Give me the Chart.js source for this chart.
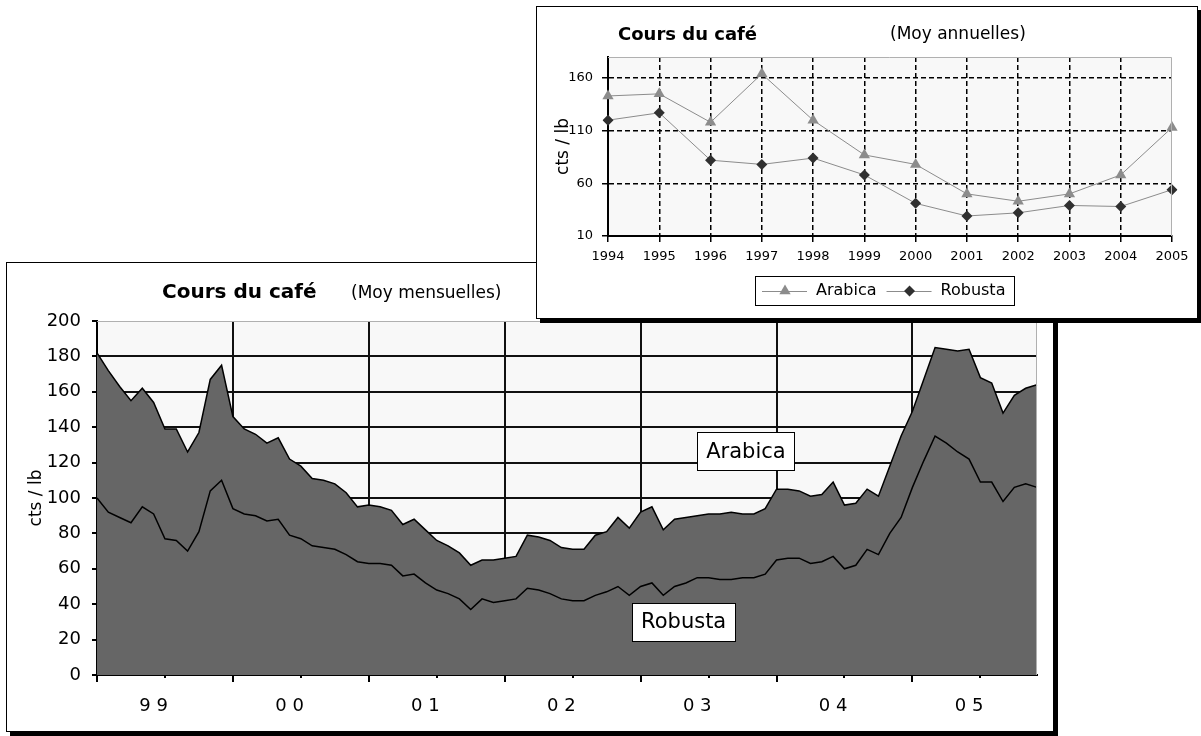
<!DOCTYPE html>
<html>
<head>
<meta charset="utf-8">
<script src="https://cdn.jsdelivr.net/npm/chart.js@4.4.0/dist/chart.umd.min.js"></script>
<style>
  body { margin: 0; background: #fff; width: 1201px; height: 736px; overflow: hidden; position: relative; }
  .frame { position: absolute; background: #fff; border: 1px solid #000; box-shadow: 4px 4px 0 #000; box-sizing: border-box; }
  #big { left: 6px; top: 262px; width: 1048px; height: 470px; z-index: 1; }
  #small { left: 536px; top: 6px; width: 662px; height: 313px; z-index: 2; }
  canvas { position: absolute; left: 0; top: 0; }
</style>
</head>
<body>
<div class="frame" id="big"><canvas id="monthly" width="1046" height="468"></canvas></div>
<div class="frame" id="small"><canvas id="yearly" width="660" height="311"></canvas></div>
<script>
const FONT = 'DejaVu Sans';

// monthly averages, jan 1999 -> dec 2005 (cts / lb)
const years = ['99', '00', '01', '02', '03', '04', '05'];
const yearTicks = ['9 9', '0 0', '0 1', '0 2', '0 3', '0 4', '0 5'];
const months = [];
years.forEach(y => { for (let m = 1; m <= 12; m++) months.push(y + '-' + m); });

const arabicaMonthly = [
  182, 172, 163, 155, 162, 154, 139, 139, 126, 137, 167, 175,
  146, 139, 136, 131, 134, 122, 118, 111, 110, 108, 103, 95,
  96, 95, 93, 85, 88, 82, 76, 73, 69, 62, 65, 65,
  66, 67, 79, 78, 76, 72, 71, 71, 79, 81, 89, 83,
  92, 95, 82, 88, 89, 90, 91, 91, 92, 91, 91, 94,
  105, 105, 104, 101, 102, 109, 96, 97, 105, 101, 118, 135,
  149, 167, 185, 184, 183, 184, 168, 165, 148, 158, 162, 164
];
const robustaMonthly = [
  100, 92, 89, 86, 95, 91, 77, 76, 70, 81, 104, 110,
  94, 91, 90, 87, 88, 79, 77, 73, 72, 71, 68, 64,
  63, 63, 62, 56, 57, 52, 48, 46, 43, 37, 43, 41,
  42, 43, 49, 48, 46, 43, 42, 42, 45, 47, 50, 45,
  50, 52, 45, 50, 52, 55, 55, 54, 54, 55, 55, 57,
  65, 66, 66, 63, 64, 67, 60, 62, 71, 68, 80, 89,
  106, 121, 135, 131, 126, 122, 109, 109, 98, 106, 108, 106
];

// yearly averages
const yearsAnnual = ['1994', '1995', '1996', '1997', '1998', '1999', '2000', '2001', '2002', '2003', '2004', '2005'];
const arabicaAnnual = [143, 145, 118, 164, 120, 87, 78, 50, 43, 50, 68, 113];
const robustaAnnual = [120, 127, 82, 78, 84, 68, 41, 29, 32, 39, 38, 54];
const annualTicks = [10, 60, 110, 160];

const clear = 'rgba(0,0,0,0)';

// light plot background + grey top/right edge, like excel
const plotBox = {
  id: 'plotBox',
  beforeDraw(chart) {
    const {ctx, chartArea: a} = chart;
    ctx.save();
    ctx.fillStyle = '#f8f8f8';
    ctx.fillRect(a.left, a.top, a.right - a.left, a.bottom - a.top);
    ctx.restore();
  },
  afterDatasetsDraw(chart) {
    const {ctx, chartArea: a} = chart;
    ctx.save();
    ctx.strokeStyle = '#b0b0b0';
    ctx.lineWidth = 1;
    ctx.beginPath();
    ctx.moveTo(a.left, Math.round(a.top) + 0.5);
    ctx.lineTo(Math.round(a.right) - 0.5, Math.round(a.top) + 0.5);
    ctx.lineTo(Math.round(a.right) - 0.5, a.bottom);
    ctx.stroke();
    ctx.restore();
  }
};

const titles = {
  id: 'titles',
  afterDraw(chart, args, opts) {
    const ctx = chart.ctx;
    ctx.save();
    ctx.fillStyle = '#000';
    ctx.textBaseline = 'middle';
    opts.items.forEach(t => {
      ctx.font = t.font;
      ctx.fillText(t.text, t.x, t.y);
    });
    ctx.restore();
  }
};

// boxed series names inside the area chart
const seriesTags = {
  id: 'seriesTags',
  afterDatasetsDraw(chart, args, opts) {
    const {ctx, scales: {x, y}} = chart;
    ctx.save();
    ctx.font = opts.font;
    ctx.textAlign = 'center';
    ctx.textBaseline = 'middle';
    opts.tags.forEach(t => {
      const cx = x.getPixelForValue(t.at[0]);
      const cy = y.getPixelForValue(t.at[1]);
      const w = Math.round(ctx.measureText(t.text).width + 18);
      const h = 38;
      const l = Math.round(cx - w / 2), tp = Math.round(cy - h / 2);
      ctx.fillStyle = '#fff';
      ctx.fillRect(l, tp, w, h);
      ctx.strokeStyle = '#000';
      ctx.lineWidth = 1;
      ctx.strokeRect(l + 0.5, tp + 0.5, w, h);
      ctx.fillStyle = '#000';
      ctx.fillText(t.text, cx, cy + 1);
    });
    ctx.restore();
  }
};

// major (year) and minor (half year) ticks under the x axis
const yearMarks = {
  id: 'yearMarks',
  afterDraw(chart) {
    const {ctx, scales: {x}, chartArea: a} = chart;
    ctx.save();
    ctx.strokeStyle = '#000';
    ctx.lineWidth = 2;
    months.forEach((m, i) => {
      if (i % 6) return;
      const px = Math.round(x.getPixelForValue(i));
      ctx.beginPath();
      ctx.moveTo(px, a.bottom);
      ctx.lineTo(px, a.bottom + (i % 12 ? 3 : 7));
      ctx.stroke();
    });
    ctx.restore();
  }
};

function marker(ctx, style, x, y, r, color) {
  ctx.fillStyle = color;
  ctx.beginPath();
  if (style === 'triangle') {
    ctx.moveTo(x, y - r);
    ctx.lineTo(x + r * 0.866, y + r / 2);
    ctx.lineTo(x - r * 0.866, y + r / 2);
  } else {
    ctx.moveTo(x, y - r);
    ctx.lineTo(x + r, y);
    ctx.lineTo(x, y + r);
    ctx.lineTo(x - r, y);
  }
  ctx.closePath();
  ctx.fill();
}

// excel style legend: line + marker + name, in a box
const boxLegend = {
  id: 'boxLegend',
  afterDraw(chart, args, opts) {
    const {ctx, chartArea: a} = chart;
    const sets = chart.data.datasets;
    ctx.save();
    ctx.font = opts.font;
    const widths = sets.map(d => ctx.measureText(d.label).width);
    const total = 7 + sets.length * (45 + 9) + widths.reduce((s, w) => s + w, 0) + 10 * (sets.length - 1) + 9;
    const left = Math.round((a.left + a.right) / 2 - 5.5 - total / 2);
    const top = Math.round(a.bottom + 40);
    const h = 29;
    ctx.strokeStyle = '#000';
    ctx.lineWidth = 1;
    ctx.strokeRect(left + 0.5, top + 0.5, Math.round(total), h);
    let x = left + 7;
    const cy = top + h / 2 + 0.5;
    sets.forEach((d, i) => {
      ctx.strokeStyle = d.borderColor;
      ctx.lineWidth = 1;
      ctx.beginPath();
      ctx.moveTo(x, Math.round(cy) + 0.5);
      ctx.lineTo(x + 45, Math.round(cy) + 0.5);
      ctx.stroke();
      marker(ctx, d.pointStyle, x + 23, cy, d.pointRadius, d.pointBackgroundColor);
      x += 45 + 9;
      ctx.fillStyle = '#000';
      ctx.textBaseline = 'middle';
      ctx.fillText(d.label, x, cy);
      x += widths[i] + 10;
    });
    ctx.restore();
  }
};

// ---- monthly area chart ----
new Chart(document.getElementById('monthly'), {
  type: 'line',
  plugins: [plotBox, titles, seriesTags, yearMarks],
  data: {
    labels: months,
    datasets: [
      {
        label: 'Robusta',
        data: robustaMonthly,
        order: 0,
        fill: false,
        borderColor: '#000',
        borderWidth: 1.5,
        pointRadius: 0,
        tension: 0
      },
      {
        label: 'Arabica',
        data: arabicaMonthly,
        order: 1,
        fill: 'origin',
        backgroundColor: '#666666',
        borderColor: '#000',
        borderWidth: 1.5,
        pointRadius: 0,
        tension: 0
      }
    ]
  },
  options: {
    responsive: false,
    animation: false,
    events: [],
    layout: { padding: { left: 0, top: 58, right: 16, bottom: 0 } },
    scales: {
      x: {
        // the tick padding would otherwise push the plot in from the right
        afterFit(s) { s.height = 56; s.paddingLeft = 0; s.paddingRight = 0; },
        grid: {
          color: c => (c.index % 12 === 0 && c.index > 0 ? '#111' : clear),
          lineWidth: 2,
          drawTicks: false
        },
        border: { color: '#000', width: 2 },
        ticks: {
          autoSkip: false,
          maxRotation: 0,
          minRotation: 0,
          padding: 21,
          color: '#000',
          font: { family: FONT, size: 18 },
          callback: (v, i) => (i % 12 === 5 ? yearTicks[Math.floor(i / 12)] : '')
        }
      },
      y: {
        min: 0,
        max: 200,
        afterFit(s) { s.width = 90; },
        grid: {
          color: c => (c.tick && c.tick.value > 0 && c.tick.value < 200 ? '#111' : clear),
          lineWidth: 2,
          tickColor: '#000',
          tickLength: 5,
          tickWidth: 2
        },
        border: { color: '#000', width: 2 },
        ticks: {
          stepSize: 20,
          padding: 11,
          color: '#000',
          font: { family: FONT, size: 18 }
        },
        title: {
          display: true,
          text: 'cts / lb',
          color: '#000',
          font: { family: FONT, size: 17 },
          padding: { top: 19, bottom: 0 }
        }
      }
    },
    plugins: {
      legend: { display: false },
      tooltip: { enabled: false },
      titles: {
        items: [
          { text: 'Cours du café', font: 'bold 20px ' + FONT, x: 155, y: 30 },
          { text: '(Moy mensuelles)', font: '17px ' + FONT, x: 344, y: 31 }
        ]
      },
      seriesTags: {
        font: '21px ' + FONT,
        tags: [
          { text: 'Arabica', at: [57.3, 126.5] },
          { text: 'Robusta', at: [51.8, 30] }
        ]
      }
    }
  }
});

// ---- yearly line chart ----
new Chart(document.getElementById('yearly'), {
  type: 'line',
  plugins: [plotBox, titles, boxLegend],
  data: {
    labels: yearsAnnual,
    datasets: [
      {
        label: 'Arabica',
        data: arabicaAnnual,
        borderColor: '#8c8c8c',
        borderWidth: 1,
        pointStyle: 'triangle',
        pointRadius: 6.5,
        pointBackgroundColor: '#8c8c8c',
        pointBorderColor: '#8c8c8c',
        pointBorderWidth: 0,
        tension: 0
      },
      {
        label: 'Robusta',
        data: robustaAnnual,
        borderColor: '#8c8c8c',
        borderWidth: 1,
        pointStyle: 'rectRot',
        pointRadius: 5.5,
        pointBackgroundColor: '#303030',
        pointBorderColor: '#303030',
        pointBorderWidth: 0,
        tension: 0
      }
    ]
  },
  options: {
    responsive: false,
    animation: false,
    events: [],
    layout: { padding: { left: 0, top: 50, right: 25, bottom: 0 } },
    scales: {
      x: {
        afterFit(s) { s.height = 82; s.paddingLeft = 0; s.paddingRight = 0; },
        grid: {
          color: c => (c.index > 0 && c.index < yearsAnnual.length - 1 ? '#000' : clear),
          lineWidth: 1.5,
          tickColor: '#000',
          tickLength: 6,
          tickWidth: 1.5,
          tickBorderDash: []
        },
        border: { color: '#000', width: 2, dash: [5, 3] },
        ticks: {
          autoSkip: false,
          maxRotation: 0,
          padding: 7,
          color: '#000',
          font: { family: FONT, size: 13 }
        }
      },
      y: {
        min: 10,
        max: 180,
        afterBuildTicks(s) { s.ticks = annualTicks.map(v => ({ value: v })); },
        afterFit(s) { s.width = 71; },
        grid: {
          color: c => (c.tick && c.tick.value > 10 ? '#000' : clear),
          lineWidth: 1.5,
          tickColor: '#000',
          tickLength: 6,
          tickWidth: 1.5,
          tickBorderDash: []
        },
        border: { color: '#000', width: 2, dash: [5, 3] },
        ticks: {
          padding: 9,
          color: '#000',
          font: { family: FONT, size: 13 }
        },
        title: {
          display: true,
          text: 'cts / lb',
          color: '#000',
          font: { family: FONT, size: 17 },
          padding: { top: 16, bottom: 0 }
        }
      }
    },
    plugins: {
      legend: { display: false },
      tooltip: { enabled: false },
      titles: {
        items: [
          { text: 'Cours du café', font: 'bold 18px ' + FONT, x: 81, y: 28 },
          { text: '(Moy annuelles)', font: '17px ' + FONT, x: 353, y: 28 }
        ]
      },
      boxLegend: { font: '16px ' + FONT }
    }
  }
});
</script>
</body>
</html>
